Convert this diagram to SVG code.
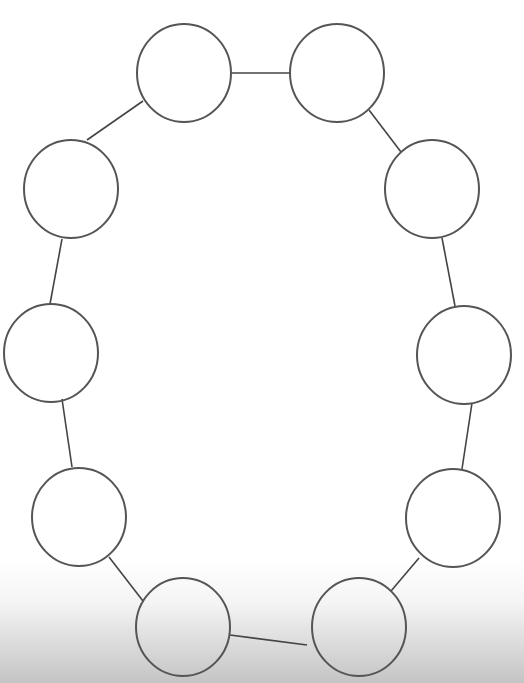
<svg xmlns="http://www.w3.org/2000/svg" width="524" height="683" viewBox="0 0 524 683">
<defs>
<linearGradient id="bg" x1="0" y1="0" x2="0" y2="1">
<stop offset="0" stop-color="#ffffff"/>
<stop offset="0.35" stop-color="#f4f4f4"/>
<stop offset="1" stop-color="#c4c4c4"/>
</linearGradient>
</defs>
<style>
.n{fill:none;stroke:#555;stroke-width:2}
.e{stroke:#444;stroke-width:1.6;fill:none}
</style>
<rect width="524" height="683" fill="#fff"/>
<rect x="0" y="560" width="524" height="123" fill="url(#bg)"/>
<g id="connectors">
<line class="e" x1="232" y1="73" x2="289" y2="73"/>
<line class="e" x1="143" y1="101" x2="87" y2="140"/>
<line class="e" x1="369" y1="110" x2="401" y2="152"/>
<line class="e" x1="62" y1="239" x2="50" y2="304"/>
<line class="e" x1="62" y1="399" x2="72" y2="467"/>
<line class="e" x1="442" y1="238" x2="455" y2="306"/>
<line class="e" x1="472" y1="403" x2="462" y2="469"/>
<line class="e" x1="109" y1="557" x2="143" y2="601"/>
<line class="e" x1="419" y1="558" x2="391" y2="591"/>
<line class="e" x1="230" y1="635" x2="307" y2="645"/>
</g>
<g id="n1"><ellipse class="n" cx="184" cy="73" rx="47" ry="49"/></g>
<g id="n2"><ellipse class="n" cx="337" cy="73" rx="47" ry="49"/></g>
<g id="n3"><ellipse class="n" cx="432" cy="189" rx="47" ry="49"/></g>
<g id="n4"><ellipse class="n" cx="71" cy="189" rx="47" ry="49"/></g>
<g id="n5"><ellipse class="n" cx="51" cy="353" rx="47" ry="49"/></g>
<g id="n6"><ellipse class="n" cx="464" cy="355" rx="47" ry="49"/></g>
<g id="n7"><ellipse class="n" cx="79" cy="517" rx="47" ry="49"/></g>
<g id="n8"><ellipse class="n" cx="453" cy="518" rx="47" ry="49"/></g>
<g id="n9"><ellipse class="n" cx="183" cy="627" rx="47" ry="49"/></g>
<g id="n10"><ellipse class="n" cx="359" cy="627" rx="47" ry="49"/></g>
</svg>
